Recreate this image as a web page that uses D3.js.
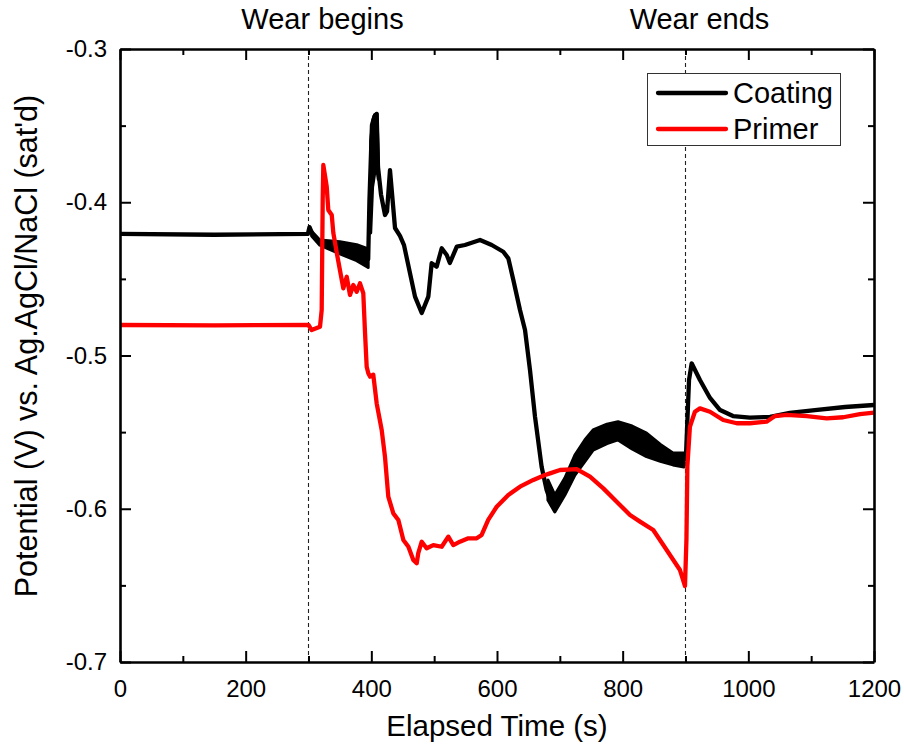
<!DOCTYPE html>
<html><head><meta charset="utf-8">
<script src="https://cdn.jsdelivr.net/npm/d3@7"></script>
<style>body{margin:0;background:#fff}svg{display:block}text{font-family:"Liberation Sans",Arial,sans-serif;fill:#000}</style>
</head><body><svg id="c" width="904" height="748"></svg>
<script>
const xTicks=[0,200,400,600,800,1000,1200];
const xMinor=[100,300,500,700,900,1100];
const yTicks=[-0.7,-0.6,-0.5,-0.4,-0.3];
const yTickLabels=["-0.7","-0.6","-0.5","-0.4","-0.3"];
const yMinor=[-0.65,-0.55,-0.45,-0.35];
const markers=[300,900];
const markerLabels=["Wear begins","Wear ends"];
const seriesNames=["Coating","Primer"];
const seriesColors=["#000000","#ff0000"];
// Coating: [time, potential]
const coating=[[0,-0.4207],[150,-0.4212],[299,-0.4207],[301.6,-0.4162],[307,-0.4214],[318,-0.4263],[350,-0.4302],[376.7,-0.4334],[395,-0.437],
[397,-0.3985],[401,-0.3496],[405,-0.344],[408.5,-0.3424],[410.6,-0.377],[415.4,-0.395],[421.8,-0.4083],[425,-0.406],[429.7,-0.379],
[437.7,-0.4168],[445.6,-0.422],[452,-0.428],[469.5,-0.4616],[480.2,-0.4723],[490.7,-0.4616],[496,-0.4398],[504,-0.442],[512,-0.43],
[520,-0.4344],[525,-0.4396],[536,-0.429],[549,-0.4279],[573,-0.4246],[591.6,-0.4279],[610,-0.4323],[618,-0.4366],[626,-0.4507],
[636.6,-0.4703],[644.6,-0.4834],[652.5,-0.5095],[660.5,-0.54],[671,-0.5726],[679,-0.5878],[687.5,-0.5976],[692.3,-0.5995],[700,-0.5943],
[708,-0.5865],[721,-0.5721],[737,-0.563],[753,-0.5555],[774.6,-0.5512],[792.6,-0.549],[816.5,-0.5532],[838,-0.558],[859,-0.5635],
[880,-0.5675],[898.4,-0.568],[900.8,-0.565],[905.6,-0.516],[909.8,-0.5051],[923,-0.516],[939,-0.5277],[955,-0.5356],[975.6,-0.5395],
[1002.6,-0.5405],[1034.5,-0.54],[1066,-0.5375],[1106,-0.5356],[1154,-0.5336],[1200,-0.5323]];
// Coating oscillation envelope: [time, top, bottom]
const coatingBand1=[[305,-0.419,-0.422],[318,-0.4247,-0.428],[350,-0.4257,-0.4336],[376.7,-0.4277,-0.4381],[395,-0.4305,-0.4425]];
const coatingBand2=[[399,-0.36,-0.42],[402,-0.347,-0.39],[405,-0.343,-0.382],[409,-0.342,-0.378],[411,-0.37,-0.385]];
const coatingBand3=[[681,-0.5812,-0.5943],[692,-0.591,-0.6021],[708,-0.58,-0.591],[724,-0.565,-0.578],[740,-0.555,-0.569],[753,-0.5486,-0.5617],
[775,-0.5448,-0.5575],[792.6,-0.5432,-0.5551],[815,-0.546,-0.561],[838,-0.5506,-0.566],[860,-0.558,-0.569],[880,-0.5636,-0.5714],[897.6,-0.5636,-0.5728]];
// Primer: [time, potential]
const primer=[[0,-0.4801],[150,-0.4803],[300,-0.4801],[305,-0.4834],[318.3,-0.4812],[321,-0.4703],[322.6,-0.3985],[323.6,-0.3757],
[329,-0.3898],[331.5,-0.405],[337,-0.4083],[339.5,-0.42],[345,-0.4331],[350,-0.4442],[355.4,-0.4562],[360.8,-0.4486],[366,-0.4605],
[371.3,-0.454],[376.7,-0.4584],[382,-0.4529],[387.2,-0.4594],[390,-0.4855],[392.6,-0.5073],[395.2,-0.5116],[397.9,-0.5138],
[403.1,-0.5125],[408.5,-0.5312],[416.5,-0.5486],[421.7,-0.566],[427,-0.5921],[435,-0.603],[443,-0.6073],[451,-0.6204],[459,-0.6248],
[466.8,-0.6334],[472.2,-0.6356],[474.7,-0.629],[480.2,-0.6215],[488,-0.6258],[498.6,-0.6237],[512,-0.6248],[522.5,-0.6182],
[530.5,-0.6237],[541,-0.6215],[554.3,-0.6193],[567.7,-0.6193],[575.6,-0.6171],[586,-0.6073],[599.5,-0.5987],[618,-0.591],
[636.6,-0.5856],[657.8,-0.5812],[676.4,-0.578],[684.3,-0.5769],[700.3,-0.5747],[726.8,-0.5742],[748,-0.5791],[769.2,-0.5867],
[790.5,-0.5954],[811.7,-0.6041],[827.6,-0.6084],[848.7,-0.6139],[864.7,-0.6237],[880.6,-0.6334],[891.2,-0.64],[899.2,-0.6504],
[901.5,-0.62],[903,-0.572],[907,-0.5465],[915,-0.5367],[923,-0.5345],[939,-0.5367],[960,-0.5421],[981.5,-0.5442],[1002.6,-0.5442],
[1029,-0.5432],[1042.4,-0.5395],[1061,-0.5388],[1093,-0.5395],[1124.7,-0.541],[1151,-0.5403],[1177.7,-0.5382],[1200,-0.5373]];

const svg=d3.select("#c");
const L=120,R=874,T=49,B=662;
const x=d3.scaleLinear().domain([0,1200]).range([L,R]);
const y=d3.scaleLinear().domain([-0.7,-0.3]).range([B,T]);

// dashed markers
svg.selectAll("line.mk").data(markers).join("line")
 .attr("x1",d=>x(d)).attr("x2",d=>x(d)).attr("y1",T).attr("y2",B)
 .attr("stroke","#222").attr("stroke-width",1.1).attr("stroke-dasharray","4,3");
svg.selectAll("text.mk").data(markers).join("text")
 .attr("x",d=>x(d)+14).attr("y",29).attr("text-anchor","middle")
 .style("font-size","29px").text((d,i)=>markerLabels[i]);

// bands
const area=d3.area().x(d=>x(d[0])).y0(d=>y(d[2])).y1(d=>y(d[1]));
[coatingBand1,coatingBand2,coatingBand3].forEach(b=>{
 svg.append("path").attr("d",area(b)).attr("fill","#000").attr("stroke","#000").attr("stroke-width",3).attr("stroke-linejoin","round");
});
const line=d3.line().x(d=>x(d[0])).y(d=>y(d[1]));
svg.append("path").attr("d",line(coating)).attr("fill","none").attr("stroke",seriesColors[0]).attr("stroke-width",4.3).attr("stroke-linejoin","round");
svg.append("path").attr("d",line(primer)).attr("fill","none").attr("stroke",seriesColors[1]).attr("stroke-width",4.3).attr("stroke-linejoin","round");

// axes
function styleAx(g){g.selectAll("path.domain").attr("stroke","#000").attr("stroke-width",2.6);
 g.selectAll(".tick line").attr("stroke","#000").attr("stroke-width",2);
 g.selectAll(".tick text").style("font-size","24px").style("font-family","'Liberation Sans',Arial,sans-serif").attr("fill","#000");}
const gb=svg.append("g").attr("transform",`translate(0,${B})`).call(d3.axisBottom(x).tickValues(xTicks).tickSize(-11).tickSizeOuter(0).tickPadding(18).tickFormat(d3.format("d")));
styleAx(gb);
svg.append("g").attr("transform",`translate(0,${B})`).call(d3.axisBottom(x).tickValues(xMinor).tickSize(-6).tickFormat("")).call(g=>{g.select(".domain").remove();g.selectAll("line").attr("stroke-width",2);});
const gt=svg.append("g").attr("transform",`translate(0,${T})`).call(d3.axisTop(x).tickValues(xTicks).tickSize(-11).tickSizeOuter(0).tickFormat(""));
styleAx(gt);
svg.append("g").attr("transform",`translate(0,${T})`).call(d3.axisTop(x).tickValues(xMinor).tickSize(-6).tickFormat("")).call(g=>{g.select(".domain").remove();g.selectAll("line").attr("stroke-width",2);});
const gl=svg.append("g").attr("transform",`translate(${L},0)`).call(d3.axisLeft(y).tickValues(yTicks).tickSize(-11).tickSizeOuter(0).tickPadding(13).tickFormat((d,i)=>yTickLabels[i]));
styleAx(gl);
svg.append("g").attr("transform",`translate(${L},0)`).call(d3.axisLeft(y).tickValues(yMinor).tickSize(-6).tickFormat("")).call(g=>{g.select(".domain").remove();g.selectAll("line").attr("stroke-width",2);});
const gr=svg.append("g").attr("transform",`translate(${R},0)`).call(d3.axisRight(y).tickValues(yTicks).tickSize(-11).tickSizeOuter(0).tickFormat(""));
styleAx(gr);
svg.append("g").attr("transform",`translate(${R},0)`).call(d3.axisRight(y).tickValues(yMinor).tickSize(-6).tickFormat("")).call(g=>{g.select(".domain").remove();g.selectAll("line").attr("stroke-width",2);});

// titles
svg.append("text").attr("x",(L+R)/2).attr("y",736).attr("text-anchor","middle").style("font-size","29.5px").text("Elapsed Time (s)");
svg.append("text").attr("transform",`translate(37,346) rotate(-90)`).attr("text-anchor","middle").style("font-size","30.5px").text("Potential (V) vs. Ag.AgCl/NaCl (sat'd)");

// legend
const lg=svg.append("g");
lg.append("rect").attr("x",647.5).attr("y",73.5).attr("width",193).attr("height",72).attr("fill","#fff").attr("stroke","#333").attr("stroke-width",1);
seriesNames.forEach((n,i)=>{
 const yy=93+i*36;
 lg.append("line").attr("x1",658).attr("x2",726).attr("y1",yy).attr("y2",yy).attr("stroke",seriesColors[i]).attr("stroke-width",4.3).attr("stroke-linecap","round");
 lg.append("text").attr("x",733).attr("y",yy).attr("dy","0.35em").style("font-size","29px").text(n);
});
</script></body></html>
